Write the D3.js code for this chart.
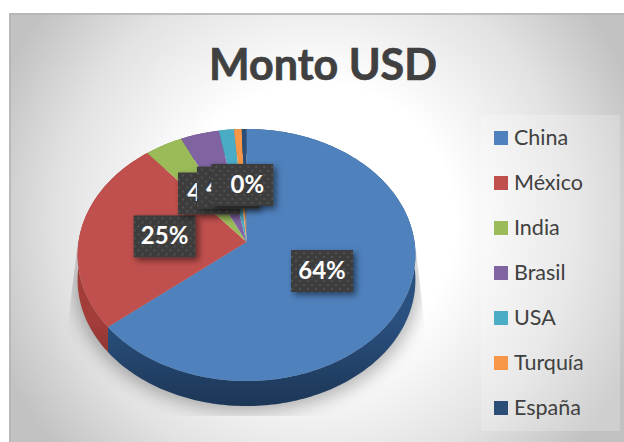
<!DOCTYPE html>
<html>
<head>
<meta charset="utf-8">
<script src="https://cdn.jsdelivr.net/npm/d3@7"></script>
<style>
html, body { margin: 0; padding: 0; background: #fff; }
svg { display: block; }
text { font-family: Lato, "Open Sans", sans-serif; }
</style>
</head>
<body>
<svg id="chart" width="624" height="442"></svg>
<script>
// values
var titleText = "Monto USD";
var countries = ["China", "México", "India", "Brasil", "USA", "Turquía", "España"];
var amounts = [64, 25, 4, 4.1, 1.6, 0.8, 0.5];
var colors = ["#4f81bd", "#c0504d", "#9bbb59", "#8064a2", "#4bacc6", "#f79646", "#2c4d75"];
var wallColors = ["#2a507f", "#a33d3a", "#76923c", "#5f497a", "#31849b", "#c5702a", "#1f3655"];
// only these labels can be seen, the others sit under the last box
var labelled = ["China", "México", "India", "Brasil", "España"];
var labelTexts = ["64%", "25%", "4%", "4%", "0%"];

var svg = d3.select("#chart");
var defs = svg.append("defs");

/** Pie geometry: a tilted disc with a little perspective */
var pieCenter = {"x": 246.5, "y": 242};
var pieSize = {"rx": 168, "ry": 124.7, "k": 0.103, "depth": 25};

/** Hand placement of the data labels, like dragged labels in the original */
var labelNudge = [[1, 3], [-2, 0], [4, 0], [5, 0], [-3, 0]];
var labelTextShift = [0, 0, -5, -5, 5];

function project(angle, r) {
    var u = r * Math.sin(angle);
    var v = -r * Math.cos(angle);
    var w = 1 - pieSize.k * v;
    return [pieCenter.x + pieSize.rx * u / w, pieCenter.y + pieSize.ry * v / w];
}

function rimPoints(a0, a1) {
    var n = Math.max(2, Math.ceil((a1 - a0) / 0.02));
    return d3.range(n + 1).map(function (i) {
        return project(a0 + (a1 - a0) * i / n, 1);
    });
}

var line = d3.line();
var color = d3.scaleOrdinal().domain(countries).range(colors);
var wallColor = d3.scaleOrdinal().domain(countries).range(wallColors);
var slices = d3.pie().sort(null).value(function (d, i) { return amounts[i]; })(countries);

function wallPath(d) {
    var top = rimPoints(d.startAngle, d.endAngle);
    var bottom = top.slice().reverse().map(function (p) { return [p[0], p[1] + pieSize.depth]; });
    return line(top.concat(bottom)) + "Z";
}

// Background
var bg = defs.append("radialGradient").attr("id", "bgGrad")
    .attr("gradientUnits", "userSpaceOnUse")
    .attr("cx", 316).attr("cy", 222).attr("r", 345);
bg.append("stop").attr("offset", "0.4").attr("stop-color", "#ffffff");
bg.append("stop").attr("offset", "0.75").attr("stop-color", "#e2e2e2");
bg.append("stop").attr("offset", "1").attr("stop-color", "#c2c2c2");

var legendGrad = defs.append("radialGradient").attr("id", "legendGrad")
    .attr("gradientUnits", "userSpaceOnUse")
    .attr("cx", 316).attr("cy", 222).attr("r", 345);
legendGrad.append("stop").attr("offset", "0.4").attr("stop-color", "#ffffff");
legendGrad.append("stop").attr("offset", "0.75").attr("stop-color", "#e8e8e8");
legendGrad.append("stop").attr("offset", "1").attr("stop-color", "#cfcfcf");

svg.append("rect").attr("x", 9).attr("y", 13).attr("width", 615).attr("height", 429)
    .attr("fill", "url(#bgGrad)");
svg.append("path").attr("d", "M10,442V14H624").attr("fill", "none")
    .attr("stroke", "#b4b4b4").attr("stroke-width", 2).attr("opacity", 0.8);

// Title
svg.append("text").attr("x", 323).attr("y", 80).attr("text-anchor", "middle")
    .attr("font-size", 43).attr("font-weight", 700).attr("fill", "#404040")
    .attr("stroke", "#404040").attr("stroke-width", 0.7)
    .text(titleText);

// Shadow under the pie, cut off by the plot area
defs.append("filter").attr("id", "pieBlur")
    .attr("x", "-20%").attr("y", "-20%").attr("width", "140%").attr("height", "140%")
    .append("feGaussianBlur").attr("stdDeviation", 9);
defs.append("clipPath").attr("id", "plotClip").append("path")
    .attr("d", "M78,240L67,330V416H425V330L415,240Z");

var rim = rimPoints(0, 2 * Math.PI);
svg.append("g").attr("clip-path", "url(#plotClip)")
    .append("path")
    .attr("d", line(rim.map(function (p) {
        return [pieCenter.x + (p[0] - pieCenter.x) * 1.02, p[1] + pieSize.depth + 5];
    })) + "Z")
    .attr("fill", "#000").attr("opacity", 0.3)
    .attr("filter", "url(#pieBlur)");

// Side wall of each slice, getting darker towards the front
var wallShade = defs.append("linearGradient").attr("id", "wallShade")
    .attr("gradientUnits", "userSpaceOnUse")
    .attr("x1", 0).attr("y1", 320).attr("x2", 0).attr("y2", 405);
wallShade.append("stop").attr("offset", "0").attr("stop-color", "#000").attr("stop-opacity", 0);
wallShade.append("stop").attr("offset", "1").attr("stop-color", "#000").attr("stop-opacity", 0.32);

svg.append("g").selectAll("path").data(slices).enter().append("path")
    .attr("d", wallPath)
    .attr("fill", function (d) { return wallColor(d.data); });
svg.append("g").selectAll("path").data(slices).enter().append("path")
    .attr("d", wallPath)
    .attr("fill", "url(#wallShade)");

// Top of each slice
svg.append("g").selectAll("path").data(slices).enter().append("path")
    .attr("d", function (d) {
        return line([project(0, 0)].concat(rimPoints(d.startAngle, d.endAngle))) + "Z";
    })
    .attr("fill", function (d) { return color(d.data); });

// Data labels
var dots = defs.append("pattern").attr("id", "boxDots").attr("patternUnits", "userSpaceOnUse")
    .attr("width", 8).attr("height", 8);
dots.append("rect").attr("width", 8).attr("height", 8).attr("fill", "#3c3c3c");
dots.append("rect").attr("x", 1).attr("y", 1).attr("width", 2).attr("height", 2).attr("fill", "#515151");
dots.append("rect").attr("x", 5).attr("y", 5).attr("width", 2).attr("height", 2).attr("fill", "#515151");

defs.append("filter").attr("id", "boxShadow")
    .attr("x", "-30%").attr("y", "-30%").attr("width", "170%").attr("height", "170%")
    .append("feDropShadow").attr("dx", 3).attr("dy", 3).attr("stdDeviation", 3)
    .attr("flood-color", "#000").attr("flood-opacity", 0.5);

var boxes = svg.append("g").selectAll("g").data(labelled).enter().append("g")
    .attr("transform", function (name, i) {
        var s = slices[countries.indexOf(name)];
        var p = project((s.startAngle + s.endAngle) / 2, 0.48);
        return "translate(" + (p[0] + labelNudge[i][0]) + "," + (p[1] + labelNudge[i][1]) + ")";
    });
boxes.append("rect")
    .attr("x", -31).attr("y", -21).attr("width", 62).attr("height", 42)
    .attr("fill", "url(#boxDots)").attr("filter", "url(#boxShadow)");
boxes.append("text")
    .attr("text-anchor", "middle").attr("y", 8).attr("font-size", 24)
    .attr("x", function (d, i) { return labelTextShift[i]; })
    .attr("font-weight", 700).attr("fill", "#fff")
    .text(function (d, i) { return labelTexts[i]; });

// Legend
svg.append("rect").attr("x", 481).attr("y", 115).attr("width", 139).attr("height", 316)
    .attr("fill", "url(#legendGrad)");
var legendY = d3.scalePoint().domain(countries).range([138, 408]);
var items = svg.append("g").selectAll("g").data(countries).enter().append("g")
    .attr("transform", function (d) { return "translate(494," + legendY(d) + ")"; });
items.append("rect").attr("y", -7).attr("width", 14).attr("height", 14)
    .attr("fill", function (d) { return color(d); });
items.append("text").attr("x", 20).attr("y", 7).attr("font-size", 21.5)
    .attr("fill", "#404040")
    .text(function (d) { return d; });
</script>
</body>
</html>
